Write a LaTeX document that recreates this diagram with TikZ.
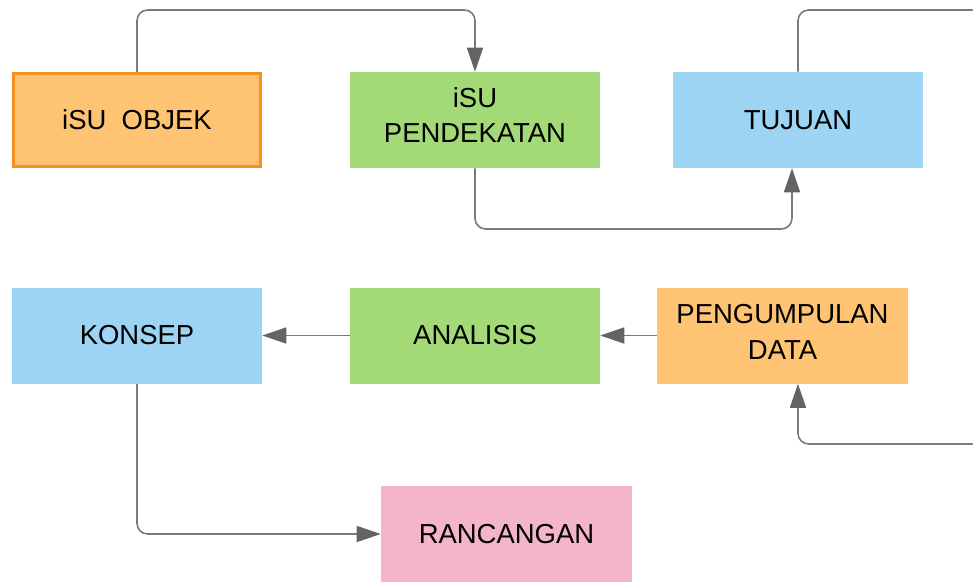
\documentclass[tikz,border=0pt]{standalone}
\usepackage{fontspec}
\setmainfont{Liberation Sans}
\usetikzlibrary{arrows.meta}
\definecolor{fillorange}{HTML}{FFC374}
\definecolor{edgeorange}{HTML}{F4921F}
\definecolor{fillgreen}{HTML}{A3D977}
\definecolor{fillblue}{HTML}{9DD3F3}
\definecolor{fillpink}{HTML}{F4B5C9}
\definecolor{linkgray}{HTML}{7A7A7A}
\definecolor{tipgray}{HTML}{646464}
% two-line label, first baseline raised above the box centre
\newcommand{\twolines}[3]{\raisebox{#1}[0pt][0pt]{\begin{tabular}[t]{@{}c@{}}#2\\#3\end{tabular}}}
\begin{document}
\begin{tikzpicture}[x=0.75pt,y=-0.75pt,
  box/.style={minimum width=187.5pt, minimum height=72pt, inner sep=0pt,
    align=center, text=black, font=\fontsize{20.6}{26.5}\selectfont},
  link/.style={draw=linkgray, line width=1.2pt, rounded corners=8pt,
    -{Triangle[length=18pt,width=12pt,color=tipgray]}}]
  \useasboundingbox (0,0) rectangle (973,581);
  \fill[white] (0,0) rectangle (973,581);
  \clip (0,0) rectangle (973,581);

  % first row
  \node[box, fill=fillorange, draw=edgeorange, line width=2.25pt,
        minimum width=185.25pt, minimum height=69.75pt] (obj) at (137,120) {iSU\ \ OBJEK};
  \node[box, fill=fillgreen] (pend) at (475,120) {\twolines{9.5pt}{iSU}{PENDEKATAN}};
  \node[box, fill=fillblue] (tuj) at (798,120) {TUJUAN};

  % second row
  \node[box, fill=fillblue] (kon) at (137,335.5) {KONSEP};
  \node[box, fill=fillgreen] (ana) at (475,335.5) {ANALISIS};
  \node[box, fill=fillorange, minimum width=188.25pt] (peng) at (782.5,335.5) {\twolines{8.8pt}{PENGUMPULAN}{DATA}};

  % third row
  \node[box, fill=fillpink, minimum width=188.25pt] (ran) at (506.5,534) {RANCANGAN};

  % bend points
  \coordinate (b1) at (300,10);
  \coordinate (b2) at (600,229);
  \coordinate (b3a) at (982,10);
  \coordinate (b3b) at (982,444);

  % connectors
  \draw[link] (obj.north) |- (b1) -| (pend.north);
  \draw[link] (pend.south) |- (b2) -| ([xshift=-4.5pt]tuj.south);
  \draw[link] (tuj.north) |- (b3a) -- (b3b) -| ([xshift=11.6pt]peng.south);
  \draw[link] (peng.west) -- (ana.east);
  \draw[link] (ana.west) -- (kon.east);
  \draw[link] (kon.south) |- (ran.west);
\end{tikzpicture}
\end{document}
